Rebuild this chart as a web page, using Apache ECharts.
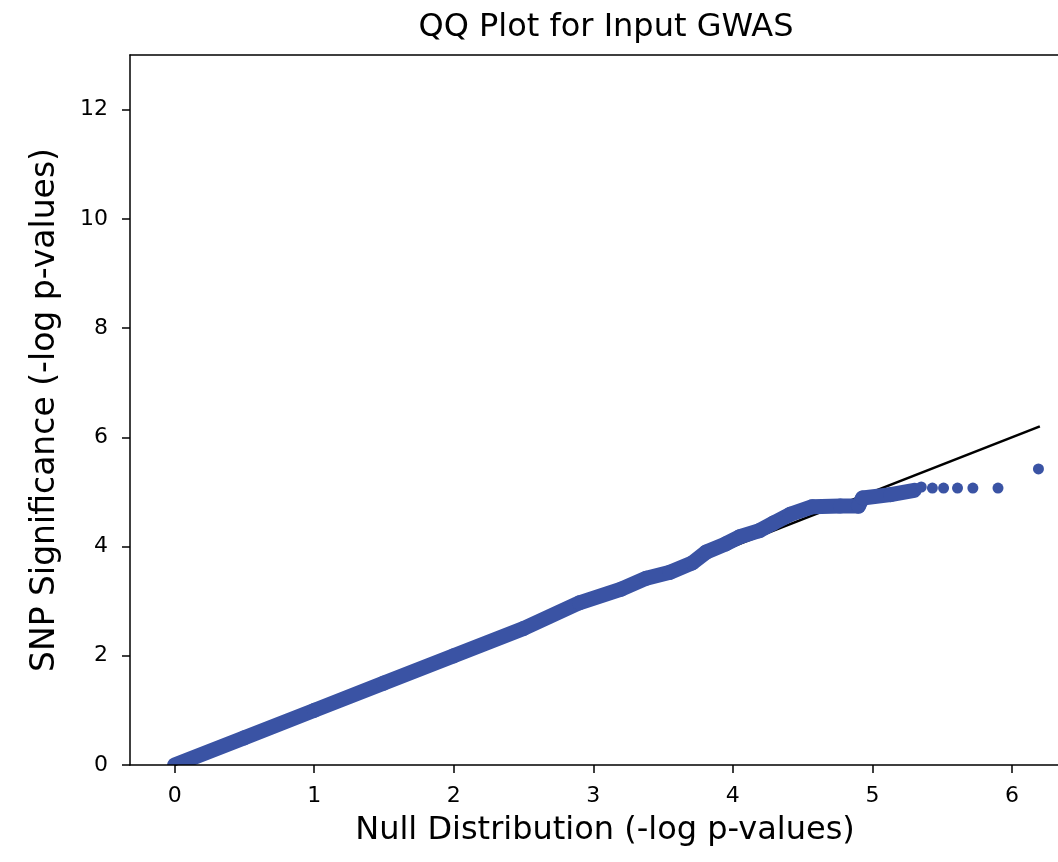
<!DOCTYPE html>
<html>
<head>
<meta charset="utf-8">
<script src="https://cdn.jsdelivr.net/npm/echarts@6/dist/echarts.min.js"></script>
<style>
  html, body { margin: 0; padding: 0; background: #fff; }
  #main { width: 1058px; height: 862px; }
</style>
</head>
<body>
<div id="main"></div>
<script>
var chartDom = document.getElementById('main');
var myChart = echarts.init(chartDom);
var option;

// dense part of the QQ curve (expected vs observed -log10 p)
var nullDense = [0, 0.5, 1, 1.5, 2, 2.5, 2.9, 3.2, 3.38, 3.55, 3.71, 3.81, 3.95, 4.05, 4.19, 4.29, 4.41, 4.57, 4.77, 4.9, 4.93, 5.13, 5.3];
var obsDense  = [0, 0.5, 1, 1.5, 2, 2.5, 2.97, 3.22, 3.42, 3.53, 3.7, 3.9, 4.05, 4.18, 4.29, 4.43, 4.59, 4.73, 4.74, 4.74, 4.89, 4.95, 5.03];
// sparse tail points
var nullTail = [5.35, 5.43, 5.51, 5.61, 5.72, 5.9, 6.19];
var obsTail  = [5.09, 5.07, 5.07, 5.07, 5.07, 5.07, 5.42];
// y = x reference line
var diagX = [0, 6.2];

var xTicks = [0, 1, 2, 3, 4, 5, 6];
var yTicks = [0, 2, 4, 6, 8, 10, 12];

var blue = '#3a53a4';
var font = 'DejaVu Sans';

var denseData = nullDense.map(function (x, i) { return [x, obsDense[i]]; });
var tailData = nullTail.map(function (x, i) { return [x, obsTail[i]]; });
var diagData = diagX.map(function (x) { return [x, x]; });

// the plot runs off the right edge of the picture, so the x range stops at 6.33
var xMin = -0.32, xMax = 6.33;

option = {
  animation: false,
  backgroundColor: '#fff',
  title: {
    text: 'QQ Plot for Input GWAS',
    left: 601,
    textAlign: 'center',
    top: 7,
    textStyle: { fontFamily: font, fontSize: 32, fontWeight: 'normal', color: '#000' }
  },
  grid: { left: 130, top: 55, bottom: 97, right: 0 },
  xAxis: [
    {
      type: 'value', min: xMin, max: xMax, z: 10,
      name: 'Null Distribution (-log p-values)',
      nameLocation: 'middle', nameGap: 50,
      nameTextStyle: { fontFamily: font, fontSize: 32, color: '#000', padding: [0, 0, 0, 22] },
      axisLine: { onZero: false, lineStyle: { color: '#000', width: 1.5 } },
      axisTick: { show: true, length: 8, lineStyle: { color: '#000', width: 1.5 }, customValues: xTicks },
      axisLabel: { customValues: xTicks, fontFamily: font, fontSize: 22, color: '#000', margin: 20 },
      splitLine: { show: false }
    },
    {
      // top spine only
      type: 'value', min: xMin, max: xMax, position: 'top', z: 10,
      axisLine: { show: true, onZero: false, lineStyle: { color: '#000', width: 1.5 } },
      axisTick: { show: false },
      axisLabel: { show: false },
      splitLine: { show: false }
    }
  ],
  yAxis: {
    type: 'value', min: 0, max: 13, z: 10,
    name: 'SNP Significance (-log p-values)',
    nameLocation: 'middle', nameGap: 68, nameRotate: 90,
    nameTextStyle: { fontFamily: font, fontSize: 33, color: '#000' },
    axisLine: { show: true, onZero: false, lineStyle: { color: '#000', width: 1.5 } },
    axisTick: { show: true, length: 8, lineStyle: { color: '#000', width: 1.5 }, customValues: yTicks },
    axisLabel: { customValues: yTicks, fontFamily: font, fontSize: 22, color: '#000', margin: 22 },
    splitLine: { show: false }
  },
  series: [
    {
      type: 'line',
      data: diagData,
      showSymbol: false,
      z: 1,
      lineStyle: { color: '#000', width: 2.6 }
    },
    {
      type: 'custom',
      clip: true,
      z: 2,
      data: denseData,
      renderItem: function (params, api) {
        var i = params.dataIndex;
        if (i >= denseData.length - 1) return null;
        var p0 = api.coord(denseData[i]);
        var p1 = api.coord(denseData[i + 1]);
        return {
          type: 'line',
          shape: { x1: p0[0], y1: p0[1], x2: p1[0], y2: p1[1] },
          style: { stroke: blue, lineWidth: 15, lineCap: 'round' }
        };
      }
    },
    {
      type: 'scatter',
      data: tailData,
      symbolSize: 11,
      z: 3,
      itemStyle: { color: blue, opacity: 1 }
    }
  ]
};

option && myChart.setOption(option);
</script>
</body>
</html>
